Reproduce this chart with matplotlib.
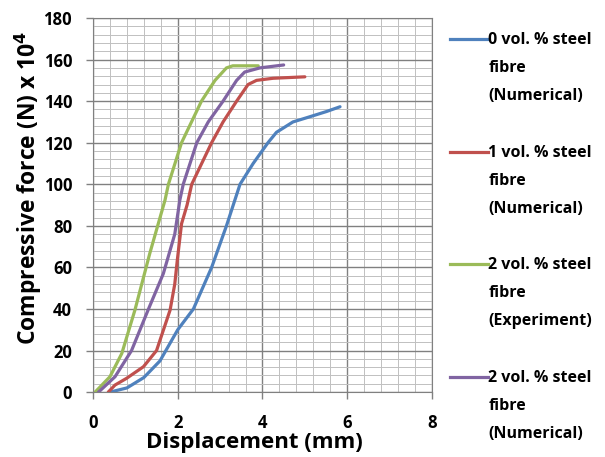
import matplotlib.pyplot as plt
from matplotlib.lines import Line2D
from matplotlib.ticker import MultipleLocator

# series (displacement mm, force N x 10^4)
x_0num = [0.4, 0.8, 1.2, 1.58, 2.0, 2.37, 2.8, 3.15, 3.31, 3.47, 3.78, 4.13, 4.33, 4.72, 5.04, 5.51, 5.83]
y_0num = [0, 2, 7, 15, 30, 40, 60, 80, 90, 100, 110, 120, 125, 130, 132, 135, 137.3]

x_1num = [0.36, 0.52, 0.79, 1.19, 1.5, 1.82, 1.93, 1.99, 2.09, 2.22, 2.33, 2.8, 3.07, 3.39, 3.66, 3.86, 4.25, 5.0]
y_1num = [0, 3.4, 6.6, 12.2, 20, 39.5, 52, 63.5, 81, 90, 100, 120, 130, 140, 148, 150, 151, 151.7]

x_2exp = [0.05, 0.4, 0.68, 0.99, 1.34, 1.7, 1.78, 2.09, 2.56, 2.88, 3.15, 3.3, 3.9]
y_2exp = [0, 7.4, 18.6, 39.5, 66.7, 92.4, 100, 120, 140, 150, 156, 157, 157]

x_2num = [0.13, 0.52, 0.91, 1.3, 1.66, 1.93, 2.05, 2.13, 2.45, 2.72, 3.07, 3.39, 3.58, 3.94, 4.5]
y_2num = [0, 7.4, 20, 39.5, 57, 76, 92.4, 100, 120, 130, 140, 150, 154, 156, 157.4]

labels = ["0 vol. % steel\nfibre\n(Numerical)",
          "1 vol. % steel\nfibre\n(Numerical)",
          "2 vol. % steel\nfibre\n(Experiment)",
          "2 vol. % steel\nfibre\n(Numerical)"]
colors = ["#4F81BD", "#C0504D", "#9BBB59", "#8064A2"]

plt.rcParams['font.family'] = ['Open Sans', 'DejaVu Sans']
plt.rcParams['font.weight'] = 'bold'

fig = plt.figure(figsize=(6.05, 4.57), dpi=100)
ax = fig.add_axes([0.1537, 0.142, 0.5603, 0.8186])

series = [(x_0num, y_0num), (x_1num, y_1num), (x_2exp, y_2exp), (x_2num, y_2num)]
for (xs, ys), c in zip(series, colors):
    ax.plot(xs, ys, color=c, linewidth=2.3, solid_capstyle='round', solid_joinstyle='round')

ax.set_xlim(0, 8)
ax.set_ylim(0, 180)
ax.xaxis.set_major_locator(MultipleLocator(2))
ax.xaxis.set_minor_locator(MultipleLocator(0.4))
ax.yaxis.set_major_locator(MultipleLocator(20))
ax.yaxis.set_minor_locator(MultipleLocator(4))
ax.grid(which='major', color='#808080', linewidth=1.0)
ax.grid(which='minor', color='#c0c0c0', linewidth=0.7)
ax.set_axisbelow(True)
for s in ax.spines.values():
    s.set_color('#808080')
ax.tick_params(which='minor', length=0)
ax.tick_params(which='major', length=5, color='#808080', width=1)
ax.tick_params(axis='x', pad=11, labelsize=12)
ax.tick_params(axis='y', pad=10, labelsize=12)

ax.set_xlabel('Displacement (mm)', fontsize=16, fontweight='bold')
ax.xaxis.set_label_coords(0.475, -0.106)
ax.set_ylabel('Compressive force (N) x 10$^{4}$', fontsize=16.5, fontweight='bold')
ax.yaxis.set_label_coords(-0.145, 0.545)

# legend on the right, handle beside the first text line
tops = [0.9147, 0.6674, 0.4223, 0.175]
for lab, c, t in zip(labels, colors, tops):
    fig.add_artist(Line2D([0.744, 0.806], [t, t], color=c, linewidth=2.3, transform=fig.transFigure))
    fig.text(0.807, t + 0.016, lab, fontsize=11.5, fontweight='bold', va='top', ha='left',
             linespacing=2.0, transform=fig.transFigure)

fig.savefig('out.png', dpi=100)
